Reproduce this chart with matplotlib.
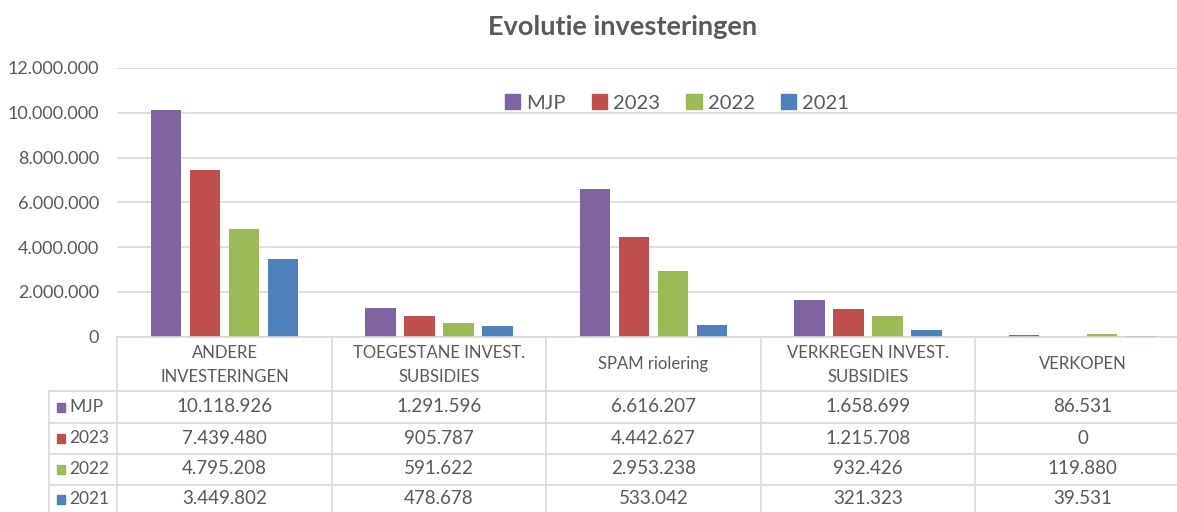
import matplotlib
matplotlib.use("Agg")
import matplotlib.pyplot as plt
from matplotlib.transforms import blended_transform_factory
from matplotlib.patches import Rectangle
import numpy as np

plt.rcParams['font.family'] = ['Lato', 'DejaVu Sans']

categories = ["ANDERE\nINVESTERINGEN", "TOEGESTANE INVEST.\nSUBSIDIES", "SPAM riolering",
              "VERKREGEN INVEST.\nSUBSIDIES", "VERKOPEN"]
series_names = ["MJP", "2023", "2022", "2021"]
mjp = [10118926, 1291596, 6616207, 1658699, 86531]
y2023 = [7439480, 905787, 4442627, 1215708, 0]
y2022 = [4795208, 591622, 2953238, 932426, 119880]
y2021 = [3449802, 478678, 533042, 321323, 39531]
series_values = [mjp, y2023, y2022, y2021]
colors = ["#8064A2", "#C0504D", "#9BBB59", "#4F81BD"]
yticks = [0, 2000000, 4000000, 6000000, 8000000, 10000000, 12000000]

TXT = "#595959"
GRID = "#D9D9D9"
W, H = 1177, 512


def fmt(v):
    return f"{v:,.0f}".replace(",", ".")


fig = plt.figure(figsize=(W / 100, H / 100), dpi=100)
fig.patch.set_facecolor("white")

left_px, right_px, top_px, base_px = 117.3, 1189.8, 68.0, 336.7
ax = fig.add_axes([left_px / W, 1 - base_px / H, (right_px - left_px) / W, (base_px - top_px) / H])

n = len(categories)
x = np.arange(n) + 0.5
pitch = 0.182
bw = 0.142
for i, (vals, c) in enumerate(zip(series_values, colors)):
    ax.bar(x + (i - 1.5) * pitch, vals, width=bw, color=c, zorder=3)

ax.set_xlim(0, n)
ax.set_ylim(0, 12000000)
ax.set_yticks(yticks)
ax.set_yticklabels([fmt(v) for v in yticks], color=TXT, fontsize=13)
ax.tick_params(axis="y", length=0, pad=13)
ax.set_xticks([])
ax.grid(axis="y", color=GRID, linewidth=1.2, zorder=0)
for s in ax.spines.values():
    s.set_visible(False)

# Legend inside the plotting area
handles = [Rectangle((0, 0), 1, 1, color=c) for c in colors]
ax.legend(handles, series_names, loc="center", bbox_to_anchor=((677 - left_px) / (right_px - left_px),
          (base_px - 103) / (base_px - top_px)), ncol=4, frameon=False, fontsize=14.5,
          labelcolor=TXT, handlelength=0.75, handleheight=0.75, handletextpad=0.3,
          columnspacing=1.3, borderaxespad=0)

fig.text(623 / W, 1 - 27 / H, "Evolutie investeringen", ha="center", va="center",
         fontsize=19.5, fontweight="bold", color=TXT)

# Data table below the axis
def py(p):
    return 1 - p / H

def px(p):
    return p / W

tr = blended_transform_factory(ax.transData, fig.transFigure)
ftr = fig.transFigure
row_lines = [390.5, 422.5, 453.5, 484.5]
row_centers = [407, 438, 469, 499]
bottom = 520

fig.add_artist(plt.Line2D([px(left_px), px(right_px)], [py(base_px), py(base_px)], color=GRID, lw=1.2, transform=ftr))
for yl in row_lines:
    fig.add_artist(plt.Line2D([px(49), px(right_px)], [py(yl), py(yl)], color=GRID, lw=1.2, transform=ftr))
fig.add_artist(plt.Line2D([px(49), px(49)], [py(row_lines[0]), py(bottom)], color=GRID, lw=1.2, transform=ftr))
for k in range(n + 1):
    fig.add_artist(plt.Line2D([k, k], [py(base_px), py(bottom)], color=GRID, lw=1.2, transform=tr))

for k, cat in enumerate(categories):
    lines = cat.split("\n")
    if len(lines) == 2:
        fig.text(x[k], py(353), lines[0], transform=tr, ha="center", va="center", color=TXT, fontsize=12)
        fig.text(x[k], py(377), lines[1], transform=tr, ha="center", va="center", color=TXT, fontsize=12)
    else:
        fig.text(x[k], py(364), lines[0], transform=tr, ha="center", va="center", color=TXT, fontsize=12)

for r, (name, vals, c) in enumerate(zip(series_names, series_values, colors)):
    yc = row_centers[r]
    fig.add_artist(Rectangle((px(57), py(yc + 4.5)), 8 / W, 9 / H, color=c, transform=ftr))
    fig.text(px(69), py(yc), name, ha="left", va="center", color=TXT, fontsize=12.5)
    for k, v in enumerate(vals):
        fig.text(x[k], py(yc), fmt(v), transform=tr, ha="center", va="center", color=TXT, fontsize=13.5)

fig.savefig("out.png", dpi=100, facecolor="white")
